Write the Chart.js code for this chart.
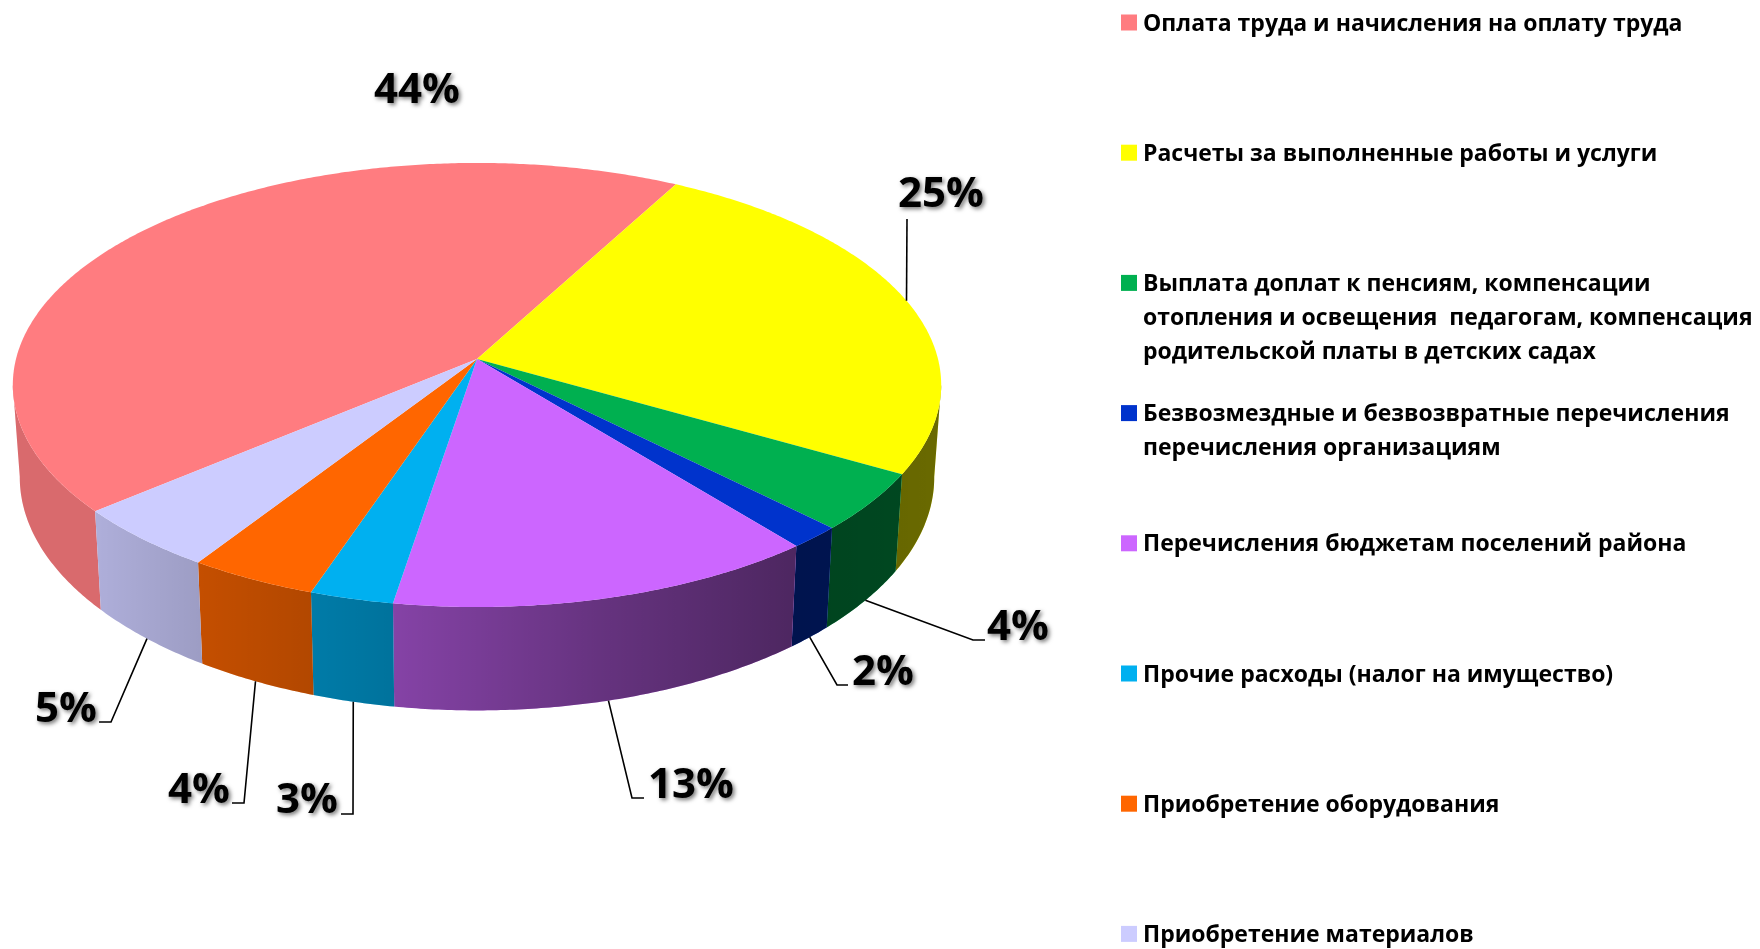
<!DOCTYPE html>
<html><head><meta charset="utf-8">
<style>html,body{margin:0;padding:0;background:#fff}canvas{display:block}</style>
<script src="https://cdn.jsdelivr.net/npm/chart.js@4"></script>
</head><body><canvas id="c" width="1760" height="949"></canvas>
<script>
const categories = [
  ["Оплата труда и начисления на оплату труда"],
  ["Расчеты за выполненные работы и услуги"],
  ["Выплата доплат к пенсиям, компенсации","отопления и освещения  педагогам, компенсация","родительской платы в детских садах"],
  ["Безвозмездные и безвозвратные перечисления","перечисления организациям"],
  ["Перечисления бюджетам поселений района"],
  ["Прочие расходы (налог на имущество)"],
  ["Приобретение оборудования"],
  ["Приобретение материалов"]
];
const values = [44.0, 25.36, 4.26, 1.64, 13.42, 2.61, 4.0, 4.7];
const percentLabels = ["44%","25%","4%","2%","13%","3%","4%","5%"];
const colors = ["#FF7C80","#FFFF00","#00B050","#0033CC","#CC66FF","#00B0F0","#FF6600","#CCCCFF"];

// label placement: text centre x, baseline y, then leader elbow points
const labelLayout = [
  {x:417,y:103,leader:null},
  {x:941,y:207,leader:[[907,219]],top:true},
  {x:1018,y:640,leader:[[973,640],[985,640]]},
  {x:883,y:685,leader:[[837,685],[848,685]]},
  {x:691,y:798,leader:[[632,798],[644,798]]},
  {x:307,y:813,leader:[[353,814],[341,814]]},
  {x:199,y:803,leader:[[244,803],[232,803]]},
  {x:66,y:722,leader:[[111,722],[99,722]]}
];
const G = {cx:477, ay:359, A:219, B:461, p:0.117, wallD:91, wallY:1.05, wallX:0.985};
function top3d(t){
  const X=Math.cos(t),Y=Math.sin(t),s=1/(1-G.p*Y);
  return {x:G.cx+G.B*X*s,y:G.ay+G.A*Y*s};
}
function bottom3d(t){
  const q=top3d(t);
  return {x:G.cx+G.wallX*(q.x-G.cx),y:G.ay+G.wallD+G.wallY*(q.y-G.ay)};
}
function arcPts(fn,a,b){
  const n=Math.max(2,Math.ceil(Math.abs(b-a)/(Math.PI/360))),o=[];
  for(let i=0;i<=n;i++)o.push(fn(a+(b-a)*i/n));
  return o;
}
function poly(ctx,pts){ctx.beginPath();pts.forEach((q,i)=>i?ctx.lineTo(q.x,q.y):ctx.moveTo(q.x,q.y));ctx.closePath();}

const pie3d = {
  id:'pie3d',
  beforeDatasetDraw(chart,args){
    const ctx=chart.ctx, arcs=chart.getDatasetMeta(0).data;
    const shade=ctx.createLinearGradient(15,0,935,0);
    [[15,.15],[100,.15],[200,.23],[313,.30],[393,.35],[600,.50],[791,.62],[935,.59]]
      .forEach(([x,a])=>shade.addColorStop((x-15)/920,`rgba(0,0,0,${a})`));
    const lo=6.6*Math.PI/180, hi=173.4*Math.PI/180;
    ctx.save();
    arcs.forEach((el,i)=>{
      for(const k of [0,-1]){
        const a=Math.max(el.startAngle+k*2*Math.PI,lo), b=Math.min(el.endAngle+k*2*Math.PI,hi);
        if(b<=a)continue;
        const pts=arcPts(top3d,a,b).concat(arcPts(bottom3d,b,a));
        poly(ctx,pts);ctx.fillStyle=colors[i];ctx.fill();
        ctx.fillStyle=shade;ctx.fill();
      }
    });
    arcs.forEach((el,i)=>{
      const pts=[{x:G.cx,y:G.ay}].concat(arcPts(top3d,el.startAngle,el.endAngle));
      poly(ctx,pts);ctx.fillStyle=colors[i];ctx.fill();
    });
    ctx.restore();
    return false;
  },
  afterDraw(chart){
    const ctx=chart.ctx, arcs=chart.getDatasetMeta(0).data;
    ctx.save();
    ctx.strokeStyle='#000';ctx.lineWidth=1.6;
    arcs.forEach((el,i)=>{
      const L=labelLayout[i]; if(!L.leader)return;
      const m=(el.startAngle+el.endAngle)/2, s=(L.top?top3d:bottom3d)(m);
      ctx.beginPath();ctx.moveTo(s.x,s.y);
      L.leader.forEach(q=>ctx.lineTo(q[0],q[1]));ctx.stroke();
    });
    ctx.textAlign='center';ctx.textBaseline='alphabetic';ctx.fillStyle='#000';
    ctx.font='bold 42px "Open Sans"';
    ctx.shadowColor='rgba(0,0,0,.55)';ctx.shadowBlur=4;ctx.shadowOffsetX=2;ctx.shadowOffsetY=2;
    percentLabels.forEach((t,i)=>ctx.fillText(t,labelLayout[i].x,labelLayout[i].y));
    ctx.shadowColor='transparent';ctx.shadowBlur=0;ctx.shadowOffsetX=0;ctx.shadowOffsetY=0;
    ctx.textAlign='left';ctx.font='bold 23px "Open Sans"';
    categories.forEach((lines,i)=>{
      const cy=22.5+130.2*i;
      ctx.fillStyle=colors[i];ctx.fillRect(1121,cy-8,16,16);
      ctx.fillStyle='#000';
      lines.forEach((t,j)=>ctx.fillText(t,1143,cy+8+34*j));
    });
    ctx.restore();
  }
};
new Chart(document.getElementById('c'),{
  type:'pie',
  data:{labels:categories.map(l=>l.join(' ')),datasets:[{data:values,backgroundColor:colors,borderWidth:0}]},
  options:{responsive:false,animation:false,rotation:230,
    plugins:{legend:{display:false},tooltip:{enabled:false}}},
  plugins:[pie3d]
});
</script></body></html>
